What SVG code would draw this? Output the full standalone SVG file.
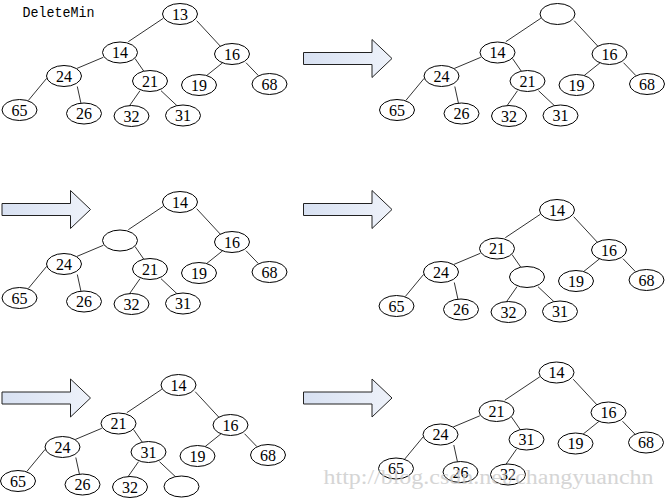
<svg xmlns="http://www.w3.org/2000/svg" xmlns:xlink="http://www.w3.org/1999/xlink" width="666" height="500" viewBox="0 0 666 500">
<style>
.edge{stroke:#333;stroke-width:1;fill:none}
.node ellipse{fill:#fff;stroke:#000;stroke-width:1}
.node text{font-family:"Liberation Serif","DejaVu Serif",serif;font-size:16px;fill:#000;text-anchor:middle}
.arrow{fill:url(#ag);stroke:#222;stroke-width:1}
.title{font-family:"Liberation Mono","DejaVu Sans Mono",monospace;font-size:14px;fill:#000}
.wm{font-family:"Liberation Serif","DejaVu Serif",serif;font-size:20px;fill:#c8c8c8;opacity:0.75}
</style>
<defs>
<linearGradient id="ag" x1="0" y1="0" x2="1" y2="0">
<stop offset="0" stop-color="#d8e1f2"/>
<stop offset="1" stop-color="#eef2fa"/>
</linearGradient>
<path id="blk" d="M0,-6 H68.5 V-19 L88.5,0 L68.5,19 V6 H0 Z"/>
</defs>
<rect width="666" height="500" fill="#fff"/>
<text class="title" x="22.5" y="16.5" textLength="72" lengthAdjust="spacingAndGlyphs">DeleteMin</text>

<g id="arrows">
<use href="#blk" xlink:href="#blk" class="arrow" transform="translate(303.5,58.5)"/>
<use href="#blk" xlink:href="#blk" class="arrow" transform="translate(2,209.5)"/>
<use href="#blk" xlink:href="#blk" class="arrow" transform="translate(303.5,209.5)"/>
<use href="#blk" xlink:href="#blk" class="arrow" transform="translate(2,398)"/>
<use href="#blk" xlink:href="#blk" class="arrow" transform="translate(303.5,398)"/>
</g>

<g id="connectors">
<g id="c1" transform="translate(0,0)">
<line class="edge" x1="163.3" y1="18.3" x2="128.3" y2="41.7"/>
<line class="edge" x1="196.7" y1="20.7" x2="222" y2="48"/>
<line class="edge" x1="103.3" y1="57.3" x2="76.7" y2="68.5"/>
<line class="edge" x1="135" y1="58.5" x2="144" y2="71.5"/>
<line class="edge" x1="46.7" y1="78.3" x2="28.3" y2="100.5"/>
<line class="edge" x1="77.3" y1="86.5" x2="81" y2="103.5"/>
<line class="edge" x1="140" y1="90.7" x2="129.3" y2="106"/>
<line class="edge" x1="161" y1="90.7" x2="177.3" y2="106"/>
<line class="edge" x1="222.7" y1="62.7" x2="206.7" y2="75.5"/>
<line class="edge" x1="246" y1="62.7" x2="258.3" y2="75.5"/>
</g>
<g id="c2" transform="translate(377.5,0)">
<line class="edge" x1="163.3" y1="18.3" x2="128.3" y2="41.7"/>
<line class="edge" x1="196.7" y1="20.7" x2="222" y2="48"/>
<line class="edge" x1="103.3" y1="57.3" x2="76.7" y2="68.5"/>
<line class="edge" x1="135" y1="58.5" x2="144" y2="71.5"/>
<line class="edge" x1="46.7" y1="78.3" x2="28.3" y2="100.5"/>
<line class="edge" x1="77.3" y1="86.5" x2="81" y2="103.5"/>
<line class="edge" x1="140" y1="90.7" x2="129.3" y2="106"/>
<line class="edge" x1="161" y1="90.7" x2="177.3" y2="106"/>
<line class="edge" x1="222.7" y1="62.7" x2="206.7" y2="75.5"/>
<line class="edge" x1="246" y1="62.7" x2="258.3" y2="75.5"/>
</g>
<g id="c3" transform="translate(0,188)">
<line class="edge" x1="163.3" y1="18.3" x2="128.3" y2="41.7"/>
<line class="edge" x1="196.7" y1="20.7" x2="222" y2="48"/>
<line class="edge" x1="103.3" y1="57.3" x2="76.7" y2="68.5"/>
<line class="edge" x1="135" y1="58.5" x2="144" y2="71.5"/>
<line class="edge" x1="46.7" y1="78.3" x2="28.3" y2="100.5"/>
<line class="edge" x1="77.3" y1="86.5" x2="81" y2="103.5"/>
<line class="edge" x1="140" y1="90.7" x2="129.3" y2="106"/>
<line class="edge" x1="161" y1="90.7" x2="177.3" y2="106"/>
<line class="edge" x1="222.7" y1="62.7" x2="206.7" y2="75.5"/>
<line class="edge" x1="246" y1="62.7" x2="258.3" y2="75.5"/>
</g>
<g id="c4" transform="translate(377,196)">
<line class="edge" x1="163.3" y1="18.3" x2="128.3" y2="41.7"/>
<line class="edge" x1="196.7" y1="20.7" x2="222" y2="48"/>
<line class="edge" x1="103.3" y1="57.3" x2="76.7" y2="68.5"/>
<line class="edge" x1="135" y1="58.5" x2="144" y2="71.5"/>
<line class="edge" x1="46.7" y1="78.3" x2="28.3" y2="100.5"/>
<line class="edge" x1="77.3" y1="86.5" x2="81" y2="103.5"/>
<line class="edge" x1="140" y1="90.7" x2="129.3" y2="106"/>
<line class="edge" x1="161" y1="90.7" x2="177.3" y2="106"/>
<line class="edge" x1="222.7" y1="62.7" x2="206.7" y2="75.5"/>
<line class="edge" x1="246" y1="62.7" x2="258.3" y2="75.5"/>
</g>
<g id="c5" transform="translate(-1.5,371)">
<line class="edge" x1="163.3" y1="18.3" x2="128.3" y2="41.7"/>
<line class="edge" x1="196.7" y1="20.7" x2="222" y2="48"/>
<line class="edge" x1="103.3" y1="57.3" x2="76.7" y2="68.5"/>
<line class="edge" x1="135" y1="58.5" x2="144" y2="71.5"/>
<line class="edge" x1="46.7" y1="78.3" x2="28.3" y2="100.5"/>
<line class="edge" x1="77.3" y1="86.5" x2="81" y2="103.5"/>
<line class="edge" x1="140" y1="90.7" x2="129.3" y2="106"/>
<line class="edge" x1="161" y1="90.7" x2="177.3" y2="106"/>
<line class="edge" x1="222.7" y1="62.7" x2="206.7" y2="75.5"/>
<line class="edge" x1="246" y1="62.7" x2="258.3" y2="75.5"/>
</g>
<g id="c6" transform="translate(376.5,358.5)">
<line class="edge" x1="163.3" y1="18.3" x2="128.3" y2="41.7"/>
<line class="edge" x1="196.7" y1="20.7" x2="222" y2="48"/>
<line class="edge" x1="103.3" y1="57.3" x2="76.7" y2="68.5"/>
<line class="edge" x1="135" y1="58.5" x2="144" y2="71.5"/>
<line class="edge" x1="46.7" y1="78.3" x2="28.3" y2="100.5"/>
<line class="edge" x1="77.3" y1="86.5" x2="81" y2="103.5"/>
<line class="edge" x1="140" y1="90.7" x2="129.3" y2="106"/>
<line class="edge" x1="222.7" y1="62.7" x2="206.7" y2="75.5"/>
<line class="edge" x1="246" y1="62.7" x2="258.3" y2="75.5"/>
</g>
</g>

<g id="tree1" transform="translate(0,0)">
<g class="node" id="t1-a"><ellipse cx="180" cy="14" rx="17.5" ry="10.5"/><text x="180" y="19.5">13</text></g>
<g class="node" id="t1-b"><ellipse cx="120" cy="52.5" rx="17.5" ry="10.5"/><text x="120" y="58">14</text></g>
<g class="node" id="t1-c"><ellipse cx="232" cy="54" rx="17.5" ry="10.5"/><text x="232" y="59.5">16</text></g>
<g class="node" id="t1-d"><ellipse cx="64" cy="76" rx="17.5" ry="10.5"/><text x="64" y="81.5">24</text></g>
<g class="node" id="t1-e"><ellipse cx="150" cy="81" rx="17.5" ry="10.5"/><text x="150" y="86.5">21</text></g>
<g class="node" id="t1-f"><ellipse cx="199" cy="85" rx="17.5" ry="10.5"/><text x="199" y="90.5">19</text></g>
<g class="node" id="t1-g"><ellipse cx="269.5" cy="84" rx="17.5" ry="10.5"/><text x="269.5" y="89.5">68</text></g>
<g class="node" id="t1-h"><ellipse cx="19.5" cy="110" rx="17.5" ry="10.5"/><text x="19.5" y="115.5">65</text></g>
<g class="node" id="t1-i"><ellipse cx="84" cy="113.5" rx="17.5" ry="10.5"/><text x="84" y="119">26</text></g>
<g class="node" id="t1-j"><ellipse cx="131.5" cy="116" rx="17.5" ry="10.5"/><text x="131.5" y="121.5">32</text></g>
<g class="node" id="t1-k"><ellipse cx="183" cy="115.5" rx="17.5" ry="10.5"/><text x="183" y="121">31</text></g>
</g>

<g id="tree2" transform="translate(377.5,0)">
<g class="node" id="t2-a"><ellipse cx="180" cy="14" rx="17.5" ry="10.5"/></g>
<g class="node" id="t2-b"><ellipse cx="120" cy="52.5" rx="17.5" ry="10.5"/><text x="120" y="58">14</text></g>
<g class="node" id="t2-c"><ellipse cx="232" cy="54" rx="17.5" ry="10.5"/><text x="232" y="59.5">16</text></g>
<g class="node" id="t2-d"><ellipse cx="64" cy="76" rx="17.5" ry="10.5"/><text x="64" y="81.5">24</text></g>
<g class="node" id="t2-e"><ellipse cx="150" cy="81" rx="17.5" ry="10.5"/><text x="150" y="86.5">21</text></g>
<g class="node" id="t2-f"><ellipse cx="199" cy="85" rx="17.5" ry="10.5"/><text x="199" y="90.5">19</text></g>
<g class="node" id="t2-g"><ellipse cx="269.5" cy="84" rx="17.5" ry="10.5"/><text x="269.5" y="89.5">68</text></g>
<g class="node" id="t2-h"><ellipse cx="19.5" cy="110" rx="17.5" ry="10.5"/><text x="19.5" y="115.5">65</text></g>
<g class="node" id="t2-i"><ellipse cx="84" cy="113.5" rx="17.5" ry="10.5"/><text x="84" y="119">26</text></g>
<g class="node" id="t2-j"><ellipse cx="131.5" cy="116" rx="17.5" ry="10.5"/><text x="131.5" y="121.5">32</text></g>
<g class="node" id="t2-k"><ellipse cx="183" cy="115.5" rx="17.5" ry="10.5"/><text x="183" y="121">31</text></g>
</g>

<g id="tree3" transform="translate(0,188)">
<g class="node" id="t3-a"><ellipse cx="180" cy="14" rx="17.5" ry="10.5"/><text x="180" y="19.5">14</text></g>
<g class="node" id="t3-b"><ellipse cx="120" cy="52.5" rx="17.5" ry="10.5"/></g>
<g class="node" id="t3-c"><ellipse cx="232" cy="54" rx="17.5" ry="10.5"/><text x="232" y="59.5">16</text></g>
<g class="node" id="t3-d"><ellipse cx="64" cy="76" rx="17.5" ry="10.5"/><text x="64" y="81.5">24</text></g>
<g class="node" id="t3-e"><ellipse cx="150" cy="81" rx="17.5" ry="10.5"/><text x="150" y="86.5">21</text></g>
<g class="node" id="t3-f"><ellipse cx="199" cy="85" rx="17.5" ry="10.5"/><text x="199" y="90.5">19</text></g>
<g class="node" id="t3-g"><ellipse cx="269.5" cy="84" rx="17.5" ry="10.5"/><text x="269.5" y="89.5">68</text></g>
<g class="node" id="t3-h"><ellipse cx="19.5" cy="110" rx="17.5" ry="10.5"/><text x="19.5" y="115.5">65</text></g>
<g class="node" id="t3-i"><ellipse cx="84" cy="113.5" rx="17.5" ry="10.5"/><text x="84" y="119">26</text></g>
<g class="node" id="t3-j"><ellipse cx="131.5" cy="116" rx="17.5" ry="10.5"/><text x="131.5" y="121.5">32</text></g>
<g class="node" id="t3-k"><ellipse cx="183" cy="115.5" rx="17.5" ry="10.5"/><text x="183" y="121">31</text></g>
</g>

<g id="tree4" transform="translate(377,196)">
<g class="node" id="t4-a"><ellipse cx="180" cy="14" rx="17.5" ry="10.5"/><text x="180" y="19.5">14</text></g>
<g class="node" id="t4-b"><ellipse cx="120" cy="52.5" rx="17.5" ry="10.5"/><text x="120" y="58">21</text></g>
<g class="node" id="t4-c"><ellipse cx="232" cy="54" rx="17.5" ry="10.5"/><text x="232" y="59.5">16</text></g>
<g class="node" id="t4-d"><ellipse cx="64" cy="76" rx="17.5" ry="10.5"/><text x="64" y="81.5">24</text></g>
<g class="node" id="t4-e"><ellipse cx="150" cy="81" rx="17.5" ry="10.5"/></g>
<g class="node" id="t4-f"><ellipse cx="199" cy="85" rx="17.5" ry="10.5"/><text x="199" y="90.5">19</text></g>
<g class="node" id="t4-g"><ellipse cx="269.5" cy="84" rx="17.5" ry="10.5"/><text x="269.5" y="89.5">68</text></g>
<g class="node" id="t4-h"><ellipse cx="19.5" cy="110" rx="17.5" ry="10.5"/><text x="19.5" y="115.5">65</text></g>
<g class="node" id="t4-i"><ellipse cx="84" cy="113.5" rx="17.5" ry="10.5"/><text x="84" y="119">26</text></g>
<g class="node" id="t4-j"><ellipse cx="131.5" cy="116" rx="17.5" ry="10.5"/><text x="131.5" y="121.5">32</text></g>
<g class="node" id="t4-k"><ellipse cx="183" cy="115.5" rx="17.5" ry="10.5"/><text x="183" y="121">31</text></g>
</g>

<g id="tree5" transform="translate(-1.5,371)">
<g class="node" id="t5-a"><ellipse cx="180" cy="14" rx="17.5" ry="10.5"/><text x="180" y="19.5">14</text></g>
<g class="node" id="t5-b"><ellipse cx="120" cy="52.5" rx="17.5" ry="10.5"/><text x="120" y="58">21</text></g>
<g class="node" id="t5-c"><ellipse cx="232" cy="54" rx="17.5" ry="10.5"/><text x="232" y="59.5">16</text></g>
<g class="node" id="t5-d"><ellipse cx="64" cy="76" rx="17.5" ry="10.5"/><text x="64" y="81.5">24</text></g>
<g class="node" id="t5-e"><ellipse cx="150" cy="81" rx="17.5" ry="10.5"/><text x="150" y="86.5">31</text></g>
<g class="node" id="t5-f"><ellipse cx="199" cy="85" rx="17.5" ry="10.5"/><text x="199" y="90.5">19</text></g>
<g class="node" id="t5-g"><ellipse cx="269.5" cy="84" rx="17.5" ry="10.5"/><text x="269.5" y="89.5">68</text></g>
<g class="node" id="t5-h"><ellipse cx="19.5" cy="110" rx="17.5" ry="10.5"/><text x="19.5" y="115.5">65</text></g>
<g class="node" id="t5-i"><ellipse cx="84" cy="113.5" rx="17.5" ry="10.5"/><text x="84" y="119">26</text></g>
<g class="node" id="t5-j"><ellipse cx="131.5" cy="116" rx="17.5" ry="10.5"/><text x="131.5" y="121.5">32</text></g>
<g class="node" id="t5-k"><ellipse cx="183" cy="115.5" rx="17.5" ry="10.5"/></g>
</g>

<g id="tree6" transform="translate(376.5,358.5)">
<g class="node" id="t6-a"><ellipse cx="180" cy="14" rx="17.5" ry="10.5"/><text x="180" y="19.5">14</text></g>
<g class="node" id="t6-b"><ellipse cx="120" cy="52.5" rx="17.5" ry="10.5"/><text x="120" y="58">21</text></g>
<g class="node" id="t6-c"><ellipse cx="232" cy="54" rx="17.5" ry="10.5"/><text x="232" y="59.5">16</text></g>
<g class="node" id="t6-d"><ellipse cx="64" cy="76" rx="17.5" ry="10.5"/><text x="64" y="81.5">24</text></g>
<g class="node" id="t6-e"><ellipse cx="150" cy="81" rx="17.5" ry="10.5"/><text x="150" y="86.5">31</text></g>
<g class="node" id="t6-f"><ellipse cx="199" cy="85" rx="17.5" ry="10.5"/><text x="199" y="90.5">19</text></g>
<g class="node" id="t6-g"><ellipse cx="269.5" cy="84" rx="17.5" ry="10.5"/><text x="269.5" y="89.5">68</text></g>
<g class="node" id="t6-h"><ellipse cx="19.5" cy="110" rx="17.5" ry="10.5"/><text x="19.5" y="115.5">65</text></g>
<g class="node" id="t6-i"><ellipse cx="84" cy="113.5" rx="17.5" ry="10.5"/><text x="84" y="119">26</text></g>
<g class="node" id="t6-j"><ellipse cx="131.5" cy="116" rx="17.5" ry="10.5"/><text x="131.5" y="121.5">32</text></g>
</g>

<text class="wm" x="323.5" y="484" textLength="330" lengthAdjust="spacingAndGlyphs">http://blog.csdn.net/changyuanchn</text>
</svg>
